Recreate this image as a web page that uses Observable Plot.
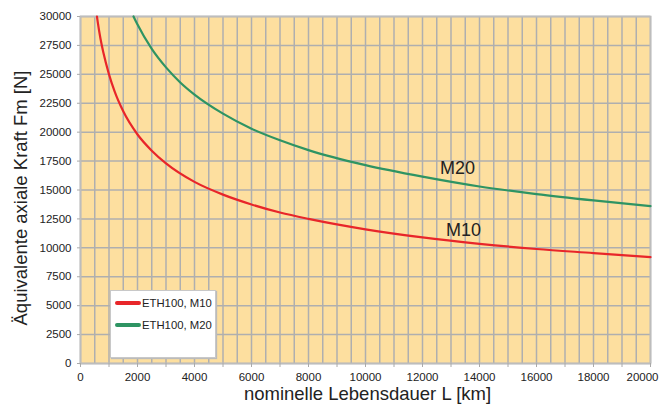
<!DOCTYPE html>
<html><head><meta charset="utf-8">
<script src="https://cdn.jsdelivr.net/npm/d3@7"></script>
<script src="https://cdn.jsdelivr.net/npm/@observablehq/plot@0.6"></script>
<style>
body{margin:0;background:#fff;font-family:"Liberation Sans",Arial,sans-serif;}
#wrap{position:relative;width:667px;height:410px;}
#legend{position:absolute;left:110px;top:290px;width:104px;height:66px;background:#fff;border:1px solid #c8c8c8;box-shadow:1px 1px 1px #bbb;font-size:11.3px;color:#222;}
.item{position:absolute;left:4px;display:flex;align-items:center;}
.sw{width:26px;height:4px;border-radius:2px;margin-right:1px;}
</style></head>
<body><div id="wrap"><div id="legend"></div></div>
<script>
const seriesNames = ["ETH100, M10", "ETH100, M20"];
const seriesColors = ["#e8262a", "#2e9463"];
const curveLabels = ["M10", "M20"];
// life L [km] vs equivalent force F [N]
const m10L = [577, 600, 700, 800, 1000, 1200, 1500, 2000, 2500, 3000, 4000, 5000, 6000, 7000, 8000, 10000, 12000, 14000, 16000, 18000, 20000];
const m10F = [30000, 29600, 28100, 26900, 25000, 23500, 21800, 19800, 18400, 17300, 15700, 14600, 13750, 13050, 12500, 11600, 10900, 10350, 9900, 9550, 9200];
const m20L = [1860, 2000, 2500, 3000, 3500, 4000, 5000, 6000, 7000, 8000, 10000, 12000, 14000, 16000, 18000, 20000];
const m20F = [30000, 29300, 27200, 25600, 24300, 23250, 21600, 20300, 19300, 18450, 17150, 16150, 15300, 14650, 14100, 13600];
const labelL = [13440, 13230];
const labelF = [11500, 16860];
const xTicks = d3.range(0, 20001, 2000);
const yTicks = d3.range(0, 30001, 2500);

const rows = [
  ...m10L.map((L, i) => ({L, F: m10F[i], s: seriesNames[0]})),
  ...m20L.map((L, i) => ({L, F: m20F[i], s: seriesNames[1]}))
];
const labels = curveLabels.map((t, i) => ({t, L: labelL[i], F: labelF[i]}));

const chart = Plot.plot({
  width: 667, height: 410,
  marginLeft: 80, marginRight: 17, marginTop: 16, marginBottom: 47,
  style: {fontFamily: "Liberation Sans, Arial, sans-serif", fontSize: "11.5px", color: "#222", background: "transparent"},
  x: {type: "linear", domain: [0, 20000], label: null},
  y: {type: "linear", domain: [0, 30000], label: null},
  color: {domain: seriesNames, range: seriesColors},
  marks: [
    Plot.frame({fill: "#fddf9f", stroke: "none"}),
    Plot.gridX({ticks: d3.range(0, 20001, 500), stroke: "#afafaf", strokeOpacity: 1, strokeWidth: 1.5}),
    Plot.gridY({ticks: yTicks, stroke: "#afafaf", strokeOpacity: 1, strokeWidth: 1.5}),
    Plot.frame({stroke: "#bdbdbd", strokeWidth: 1.8}),
    Plot.axisX({ticks: d3.range(0, 20001, 1000), tickSize: 4, stroke: "#aaa", tickFormat: () => ""}),
    Plot.axisX({ticks: xTicks.slice(0, -1), tickSize: 0, tickPadding: 9, tickFormat: d => String(d)}),
    Plot.axisX({ticks: xTicks.slice(-1), tickSize: 0, tickPadding: 9, dx: -8, tickFormat: d => String(d)}),
    Plot.axisY({ticks: yTicks, tickSize: 3, tickPadding: 6, stroke: "#aaa", tickFormat: d => String(d)}),
    Plot.line(rows, {x: "L", y: "F", z: "s", stroke: "s", strokeWidth: 2.2, curve: "monotone-x"}),
    Plot.text(labels, {x: "L", y: "F", text: "t", fontSize: 18, fill: "#222"}),
    Plot.text(["nominelle Lebensdauer L [km]"], {frameAnchor: "bottom", textAnchor: "middle", dx: 2, dy: 36, fontSize: 18.5, fill: "#222"}),
    Plot.text(["Äquivalente axiale Kraft Fm [N]"], {frameAnchor: "left", textAnchor: "middle", dx: -59, dy: 8, rotate: -90, fontSize: 18.5, fill: "#222"})
  ]
});
document.getElementById("wrap").prepend(chart);

const lg = document.getElementById("legend");
seriesNames.forEach((n, i) => {
  const it = document.createElement("div");
  it.className = "item";
  it.style.top = (6 + i * 22) + "px";
  it.innerHTML = `<span class="sw" style="background:${seriesColors[i]}"></span><span>${n}</span>`;
  lg.appendChild(it);
});
</script></body></html>
